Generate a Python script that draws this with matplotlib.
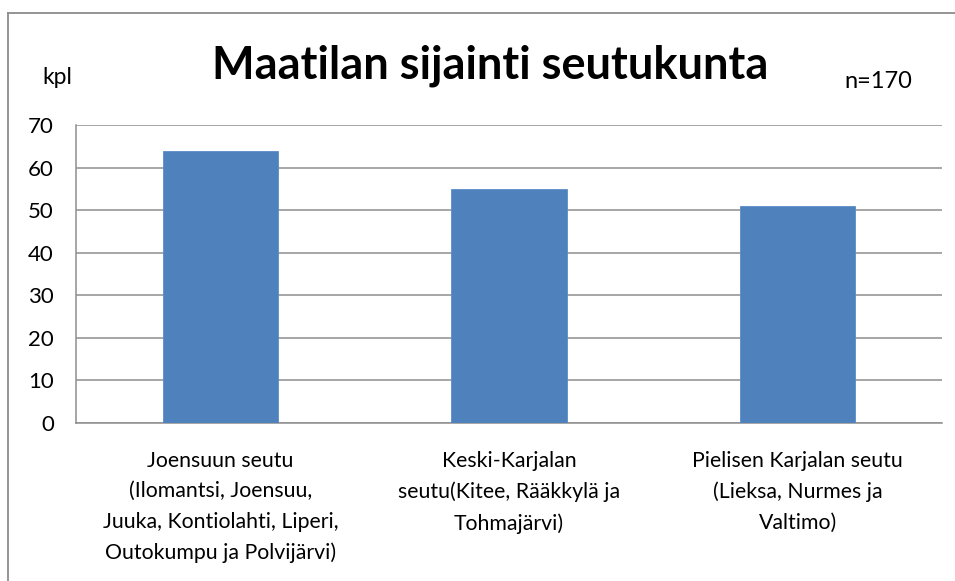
import matplotlib
matplotlib.use("Agg")
import matplotlib.pyplot as plt
from matplotlib.lines import Line2D

plt.rcParams['font.family'] = ['Lato', 'DejaVu Sans']

title = "Maatilan sijainti seutukunta"
unit_label = "kpl"
n_label = "n=170"
categories = [
    "Joensuun seutu\n(Ilomantsi, Joensuu,\nJuuka, Kontiolahti, Liperi,\nOutokumpu ja Polvijärvi)",
    "Keski-Karjalan\nseutu(Kitee, Rääkkylä ja\nTohmajärvi)",
    "Pielisen Karjalan seutu\n(Lieksa, Nurmes ja\nValtimo)",
]
values = [64, 55, 51]
yticks = [0, 10, 20, 30, 40, 50, 60, 70]

W, H = 955, 581
fig = plt.figure(figsize=(W / 100, H / 100), dpi=100)
ax = fig.add_axes([76 / W, (H - 423) / H, (942 - 76) / W, (423 - 125) / H])

x = range(len(categories))
ax.bar(x, values, width=0.4, color='#4F81BD', edgecolor='#5B8CC8', linewidth=0.6, zorder=3)
ax.set_xlim(-0.5, len(categories) - 0.5)
ax.set_ylim(0, 70)
ax.set_yticks(yticks)
ax.set_yticklabels([str(t) for t in yticks], fontsize=16)
ax.set_xticks(list(x))
ax.set_xticklabels(categories, fontsize=15.3, linespacing=1.66, va='top')
ax.tick_params(axis='y', length=0, pad=16)
ax.tick_params(axis='x', length=0, pad=20)
ax.grid(axis='y', color='#8E8E8E', linewidth=1.1, zorder=0)
for s in ['top', 'right']:
    ax.spines[s].set_visible(False)
ax.spines['left'].set_color('#8E8E8E')
ax.spines['bottom'].set_color('#8E8E8E')
ax.spines['left'].set_linewidth(1.1)
ax.spines['bottom'].set_linewidth(1.1)

fig.text(490 / W, 1 - 66 / H, title, fontsize=32.5, fontweight='bold', ha='center', va='center')
fig.text(57 / W, 1 - 78 / H, unit_label, fontsize=16.5, ha='center', va='center')
fig.text(878 / W, 1 - 82 / H, n_label, fontsize=17, ha='center', va='center')

# outer chart border (top and left)
fig.add_artist(Line2D([8 / W, 1.0], [1 - 13 / H, 1 - 13 / H], transform=fig.transFigure, color='#8C8C8C', linewidth=1.3))
fig.add_artist(Line2D([8 / W, 8 / W], [0, 1 - 13 / H], transform=fig.transFigure, color='#8C8C8C', linewidth=1.3))

fig.savefig("out.png", dpi=100)
